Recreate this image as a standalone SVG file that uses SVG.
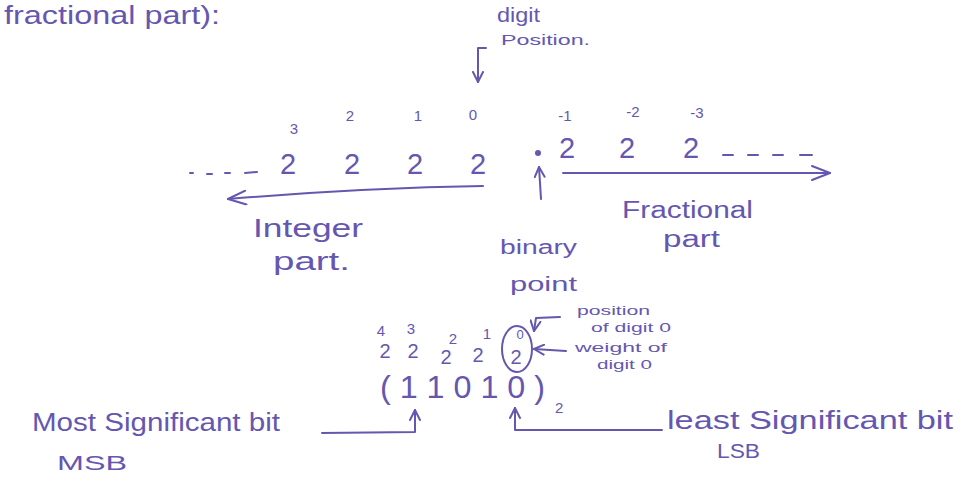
<svg xmlns="http://www.w3.org/2000/svg" width="967" height="486" viewBox="0 0 967 486">
<style>
text{font-family:"Liberation Sans","DejaVu Sans",sans-serif;fill:#6557b0}
.h{font-size:25px}
.f{font-size:23px}
.m{font-size:20px}
.s{font-size:15px}
.t{font-size:13px}
.d{font-size:29px}
.e{font-size:15px}
.ln{fill:none;stroke:#6557b0;stroke-width:2;stroke-linecap:round;stroke-linejoin:round}
</style>
<defs>
<marker id="ah" viewBox="0 0 12 12" refX="11" refY="6" markerWidth="12" markerHeight="12" markerUnits="userSpaceOnUse" orient="auto">
<path d="M1,1 L11,6 L1,11" fill="none" stroke="#6557b0" stroke-width="2" stroke-linecap="round"/>
</marker>
<marker id="ahb" viewBox="0 0 20 16" refX="19" refY="8" markerWidth="20" markerHeight="16" markerUnits="userSpaceOnUse" orient="auto">
<path d="M1,1 L19,8 L1,15" fill="none" stroke="#6557b0" stroke-width="2" stroke-linecap="round"/>
</marker>
</defs>
<rect width="967" height="486" fill="#ffffff"/>

<g id="title">
<text class="h" x="4" y="24" textLength="216" lengthAdjust="spacingAndGlyphs">fractional part):</text>
</g>

<g id="digit-position">
<text class="m" x="497" y="22" textLength="43" lengthAdjust="spacingAndGlyphs">digit</text>
<text class="s" x="501" y="45" textLength="89" lengthAdjust="spacingAndGlyphs">Position.</text>
</g>

<g id="integer-powers">
<text class="d" x="288" y="174" text-anchor="middle">2</text>
<text class="d" x="352" y="174" text-anchor="middle">2</text>
<text class="d" x="415" y="174" text-anchor="middle">2</text>
<text class="d" x="478" y="174" text-anchor="middle">2</text>
<text class="e" x="294" y="134" text-anchor="middle">3</text>
<text class="e" x="350" y="121" text-anchor="middle">2</text>
<text class="e" x="418" y="121" text-anchor="middle">1</text>
<text class="e" x="473" y="120" text-anchor="middle">0</text>
</g>

<g id="binary-point-dot">
<circle cx="538" cy="153" r="3" fill="#6557b0"/>
</g>

<g id="fraction-powers">
<text class="d" x="567" y="158" text-anchor="middle">2</text>
<text class="d" x="627" y="158" text-anchor="middle">2</text>
<text class="d" x="691" y="158" text-anchor="middle">2</text>
<text class="e" x="565" y="121" text-anchor="middle">-1</text>
<text class="e" x="633" y="117" text-anchor="middle">-2</text>
<text class="e" x="697" y="118" text-anchor="middle">-3</text>
</g>

<g id="integer-part">
<text class="h" x="253" y="237" textLength="110" lengthAdjust="spacingAndGlyphs">Integer</text>
<text class="h" x="273" y="270" textLength="77" lengthAdjust="spacingAndGlyphs">part.</text>
</g>

<g id="binary-point">
<text class="m" x="500" y="254" textLength="77" lengthAdjust="spacingAndGlyphs">binary</text>
<text class="m" x="510" y="291" textLength="67" lengthAdjust="spacingAndGlyphs">point</text>
</g>

<g id="fractional-part">
<text class="f" x="622" y="218" textLength="131" lengthAdjust="spacingAndGlyphs">Fractional</text>
<text class="f" x="663" y="247" textLength="57" lengthAdjust="spacingAndGlyphs">part</text>
</g>

<g id="weights">
<text class="m" x="385" y="358" text-anchor="middle">2</text>
<text class="m" x="413" y="358" text-anchor="middle">2</text>
<text class="m" x="446" y="364" text-anchor="middle">2</text>
<text class="m" x="478" y="362" text-anchor="middle">2</text>
<text class="m" x="516" y="364" text-anchor="middle">2</text>
<text class="e" x="381" y="336" text-anchor="middle">4</text>
<text class="e" x="411" y="334" text-anchor="middle">3</text>
<text class="e" x="453" y="344" text-anchor="middle">2</text>
<text class="e" x="487" y="339" text-anchor="middle">1</text>
<text class="t" x="520" y="339" text-anchor="middle">0</text>
<ellipse cx="517" cy="349" rx="15" ry="23" class="ln"/>
</g>

<g id="position-label">
<text class="t" x="577" y="315" textLength="73" lengthAdjust="spacingAndGlyphs">position</text>
<text class="t" x="591" y="332" textLength="80" lengthAdjust="spacingAndGlyphs">of digit 0</text>
</g>

<g id="weight-label">
<text class="t" x="575" y="352" textLength="92" lengthAdjust="spacingAndGlyphs">weight of</text>
<text class="t" x="597" y="369" textLength="55" lengthAdjust="spacingAndGlyphs">digit 0</text>
</g>

<g id="binary-number">
<text x="380" y="398" font-size="32" textLength="165" lengthAdjust="spacingAndGlyphs">( 1 1 0 1 0 )</text>
<text class="e" x="555" y="413">2</text>
</g>

<g id="msb">
<text class="h" x="32" y="431" textLength="248" lengthAdjust="spacingAndGlyphs">Most Significant bit</text>
<text class="m" x="57" y="470" textLength="70" lengthAdjust="spacingAndGlyphs">MSB</text>
</g>

<g id="lsb">
<text class="h" x="667" y="429" textLength="286" lengthAdjust="spacingAndGlyphs">least Significant bit</text>
<text class="m" x="717" y="458" textLength="43" lengthAdjust="spacingAndGlyphs">LSB</text>
</g>

<g id="connectors">
<path class="ln" d="M190,173 L193,173 M207,174 L212,174 M225,173 L230,173 M245,173 L257,172"/>
<path class="ln" d="M723,155 L733,155 M748,155 L758,155 M773,155 L783,155 M800,155 L812,155"/>
<path class="ln" d="M486,48 L478,48 L478,82" marker-end="url(#ah)"/>
<path class="ln" d="M483,186 Q360,188 228,199" marker-end="url(#ahb)"/>
<path class="ln" d="M563,173 L830,173" marker-end="url(#ahb)"/>
<path class="ln" d="M541,199 L539,167" marker-end="url(#ah)"/>
<path class="ln" d="M560,317 L536,318 L534,331" marker-end="url(#ah)"/>
<path class="ln" d="M566,351 L534,349" marker-end="url(#ah)"/>
<path class="ln" d="M322,433 L415,432 L415,410" marker-end="url(#ah)"/>
<path class="ln" d="M662,430 L515,430 L515,408" marker-end="url(#ah)"/>
</g>
</svg>
